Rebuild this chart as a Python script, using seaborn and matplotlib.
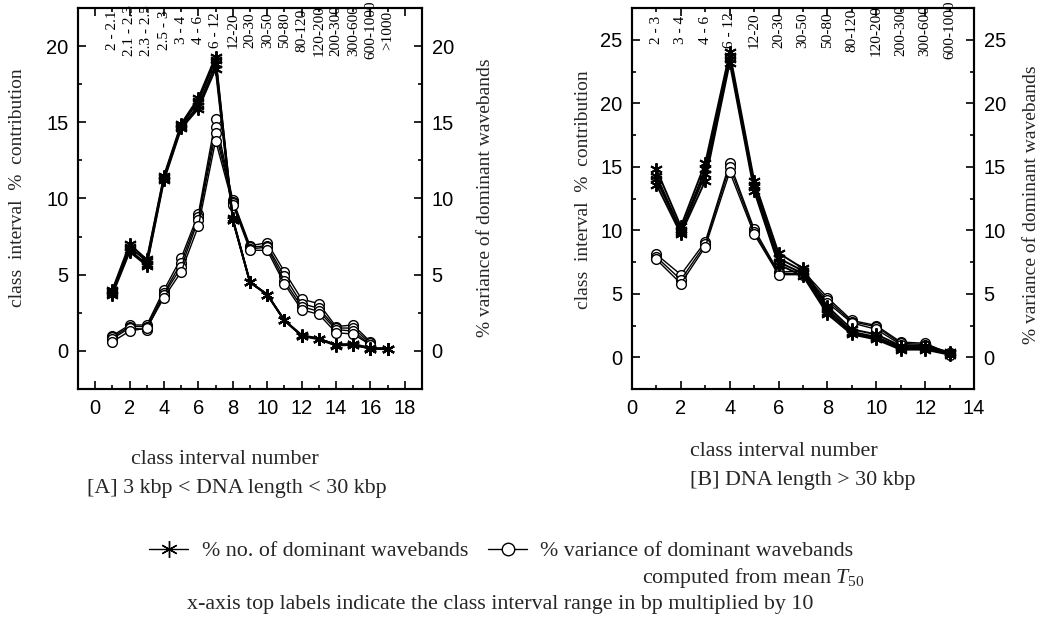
import pandas as pd
import matplotlib
import matplotlib.pyplot as plt
matplotlib.use('Agg')  # no display
import matplotlib.transforms as mtransforms
from matplotlib.lines import Line2D
from matplotlib.ticker import MultipleLocator
import seaborn as sns

# ---- data ----
# panel A : 3 kbp < DNA length < 30 kbp
classes_a = list(range(1, 18))
top_labels_a = ["2 - 2.1", "2.1 - 2.3", "2.3 - 2.5", "2.5 - 3", "3 - 4", "4 - 6", "6 - 12",
                "12-20", "20-30", "30-50", "50-80", "80-120", "120-200", "200-300",
                "300-600", "600-1000", ">1000"]
# % no. of dominant wavebands (several overlapping runs)
star_a = [
    [4.0, 7.0, 6.0, 11.5, 14.9, 16.6, 19.3, 8.6, 4.5, 3.7, 2.0, 1.05, 0.8, 0.4, 0.45, 0.2, 0.15],
    [3.9, 6.8, 5.9, 11.4, 14.8, 16.4, 19.1, 8.7, 4.5, 3.7, 2.0, 1.0, 0.75, 0.35, 0.4, 0.15, 0.15],
    [3.8, 6.6, 5.7, 11.3, 14.7, 16.1, 18.8, 8.6, 4.5, 3.7, 2.0, 1.0, 0.8, 0.4, 0.4, 0.15, 0.15],
    [3.7, 6.5, 5.6, 11.2, 14.6, 15.9, 18.5, 8.6, 4.5, 3.7, 2.0, 1.0, 0.8, 0.4, 0.45, 0.15, 0.1],
]
# % variance of dominant wavebands (x = 1..16)
circle_a = [
    [1.0, 1.7, 1.7, 4.0, 6.1, 9.0, 15.2, 9.9, 6.9, 7.1, 5.2, 3.4, 3.1, 1.6, 1.7, 0.6],
    [0.9, 1.6, 1.6, 3.8, 5.8, 8.8, 14.7, 9.8, 6.8, 6.9, 4.9, 3.1, 2.8, 1.5, 1.5, 0.5],
    [0.8, 1.5, 1.4, 3.7, 5.5, 8.6, 14.3, 9.7, 6.7, 6.8, 4.6, 2.9, 2.6, 1.4, 1.3, 0.4],
    [0.6, 1.3, 1.5, 3.5, 5.2, 8.2, 13.8, 9.6, 6.6, 6.6, 4.4, 2.7, 2.4, 1.2, 1.1, 0.4],
]

# panel B : DNA length > 30 kbp
classes_b = list(range(1, 14))
top_labels_b = ["2 - 3", "3 - 4", "4 - 6", "6 - 12", "12-20", "20-30", "30-50", "50-80",
                "80-120", "120-200", "200-300", "300-600", "600-1000"]
star_b = [
    [14.8, 10.3, 15.3, 24.0, 13.9, 8.2, 7.0, 4.0, 2.2, 1.8, 0.9, 0.9, 0.4],
    [14.3, 10.0, 14.8, 23.7, 13.6, 7.8, 6.8, 3.8, 2.0, 1.6, 0.8, 0.8, 0.3],
    [14.0, 9.9, 14.4, 23.5, 13.4, 7.5, 6.6, 3.6, 1.9, 1.5, 0.7, 0.7, 0.3],
    [13.6, 9.7, 13.9, 23.2, 13.1, 7.3, 6.4, 3.4, 1.8, 1.4, 0.6, 0.6, 0.2],
]
circle_b = [
    [8.1, 6.5, 9.1, 15.3, 10.1, 6.7, 6.8, 4.7, 2.9, 2.5, 1.2, 1.1, 0.3],
    [7.9, 6.1, 8.9, 15.0, 9.9, 6.6, 6.6, 4.5, 2.8, 2.4, 1.1, 1.0, 0.3],
    [7.7, 5.8, 8.7, 14.6, 9.7, 6.5, 6.5, 4.3, 2.7, 2.2, 1.0, 0.9, 0.2],
]

SERIF = 'Liberation Serif'
STAR = (6, 2, 0)
TXT = 15.8

sns.set_theme(style='ticks')
plt.rcParams['font.family'] = ['Liberation Sans', 'DejaVu Sans']
plt.rcParams['mathtext.fontset'] = 'custom'
plt.rcParams['mathtext.rm'] = SERIF
plt.rcParams['mathtext.it'] = SERIF + ':italic'


def to_long(runs, xs):
    rows = []
    for i, run in enumerate(runs):
        for x, v in zip(xs, run):
            rows.append({'x': x, 'y': v, 'run': i})
    return pd.DataFrame(rows)


def draw_panel(ax, xs, stars, circles, top_labels, xlim, ylim):
    sns.lineplot(data=to_long(circles, xs[:len(circles[0])]), x='x', y='y', units='run',
                 estimator=None, color='black', lw=1.0, marker='o', markersize=7,
                 markerfacecolor='white', markeredgecolor='black', markeredgewidth=1.0,
                 ax=ax, legend=False)
    sns.lineplot(data=to_long(stars, xs), x='x', y='y', units='run',
                 estimator=None, color='black', lw=1.4, marker=STAR, markersize=9,
                 markeredgecolor='black', markeredgewidth=1.4, ax=ax, legend=False)
    ax.set_xlim(*xlim)
    ax.set_ylim(*ylim)
    ax.set_xlabel('')
    ax.set_ylabel('')
    ax.xaxis.set_major_locator(MultipleLocator(2))
    ax.xaxis.set_minor_locator(MultipleLocator(1))
    ax.yaxis.set_major_locator(MultipleLocator(5))
    ax.yaxis.set_minor_locator(MultipleLocator(2.5))
    ax.tick_params(which='both', direction='in', top=True, right=False, width=1.2,
                   labelsize=14.5, colors='black')
    ax.tick_params(which='major', length=6, pad=7)
    ax.tick_params(which='minor', length=3)
    for sp in ax.spines.values():
        sp.set_visible(True)
        sp.set_linewidth(1.5)
        sp.set_color('black')

    # right hand axis: same scale
    ax2 = ax.twinx()
    ax2.set_ylim(*ylim)
    ax2.yaxis.set_major_locator(MultipleLocator(5))
    ax2.yaxis.set_minor_locator(MultipleLocator(2.5))
    ax2.tick_params(which='both', direction='in', width=1.2, labelsize=14.5, colors='black')
    ax2.tick_params(which='major', length=6, pad=7)
    ax2.tick_params(which='minor', length=3)
    for sp in ax2.spines.values():
        sp.set_linewidth(1.5)
        sp.set_color('black')

    # class interval ranges along the top
    trans = mtransforms.blended_transform_factory(ax.transData, ax.transAxes)
    for x, lab in zip(xs, top_labels):
        ax.text(x, 0.942, lab, transform=trans, rotation=90, ha='center', va='center',
                fontsize=11, family=SERIF, color='black', clip_on=False)


fig = plt.figure(figsize=(10.42, 6.22), dpi=100)
W, H = 1042.0, 622.0

ax_a = fig.add_axes([78 / W, 1 - 389 / H, 344 / W, 381 / H])
draw_panel(ax_a, classes_a, star_a, circle_a, top_labels_a, (-1, 19), (-2.5, 22.5))

ax_b = fig.add_axes([632 / W, 1 - 389 / H, 342 / W, 381 / H])
draw_panel(ax_b, classes_b, star_b, circle_b, top_labels_b, (0, 14), (-2.5, 27.5))

# axis titles
ylab_left = 'class  interval  %  contribution'
ylab_right = '% variance of dominant wavebands'
fig.text(18 / W, 1 - 188 / H, ylab_left, rotation=90, ha='center', va='center',
         fontsize=14, family=SERIF)
fig.text(485 / W, 1 - 198 / H, ylab_right, rotation=90, ha='center', va='center',
         fontsize=14, family=SERIF)
fig.text(583 / W, 1 - 190 / H, ylab_left, rotation=90, ha='center', va='center',
         fontsize=14, family=SERIF)
fig.text(1031 / W, 1 - 205 / H, ylab_right, rotation=90, ha='center', va='center',
         fontsize=14, family=SERIF)

fig.text(225 / W, 1 - 460 / H, 'class interval number', ha='center', va='center',
         fontsize=TXT, family=SERIF)
fig.text(237 / W, 1 - 488 / H, '[A] 3 kbp < DNA length < 30 kbp', ha='center', va='center',
         fontsize=TXT, family=SERIF)
fig.text(690 / W, 1 - 452 / H, 'class interval number', ha='left', va='center',
         fontsize=TXT, family=SERIF)
fig.text(690 / W, 1 - 480 / H, '[B] DNA length > 30 kbp', ha='left', va='center',
         fontsize=TXT, family=SERIF)

# legend
handles = [
    Line2D([], [], color='black', lw=1.0, marker=STAR, markersize=12, markeredgewidth=1.0),
    Line2D([], [], color='black', lw=1.0, marker='o', markersize=9, markerfacecolor='white',
           markeredgecolor='black', markeredgewidth=1.0),
]
labels = ['% no. of dominant wavebands', '% variance of dominant wavebands']
fig.legend(handles, labels, loc='center left', bbox_to_anchor=(138 / W, 1 - 551 / H),
           ncol=2, frameon=False, prop={'family': SERIF, 'size': TXT},
           handlelength=1.8, handletextpad=0.6, columnspacing=0.9, borderpad=0)
fig.text(865 / W, 1 - 578 / H, 'computed from mean $T_{50}$', ha='right', va='center',
         fontsize=TXT, family=SERIF)
fig.text(500 / W, 1 - 604 / H,
         'x-axis top labels indicate the class interval range in bp multiplied by 10',
         ha='center', va='center', fontsize=TXT, family=SERIF)

fig.savefig('out.png', dpi=100, facecolor='white')
